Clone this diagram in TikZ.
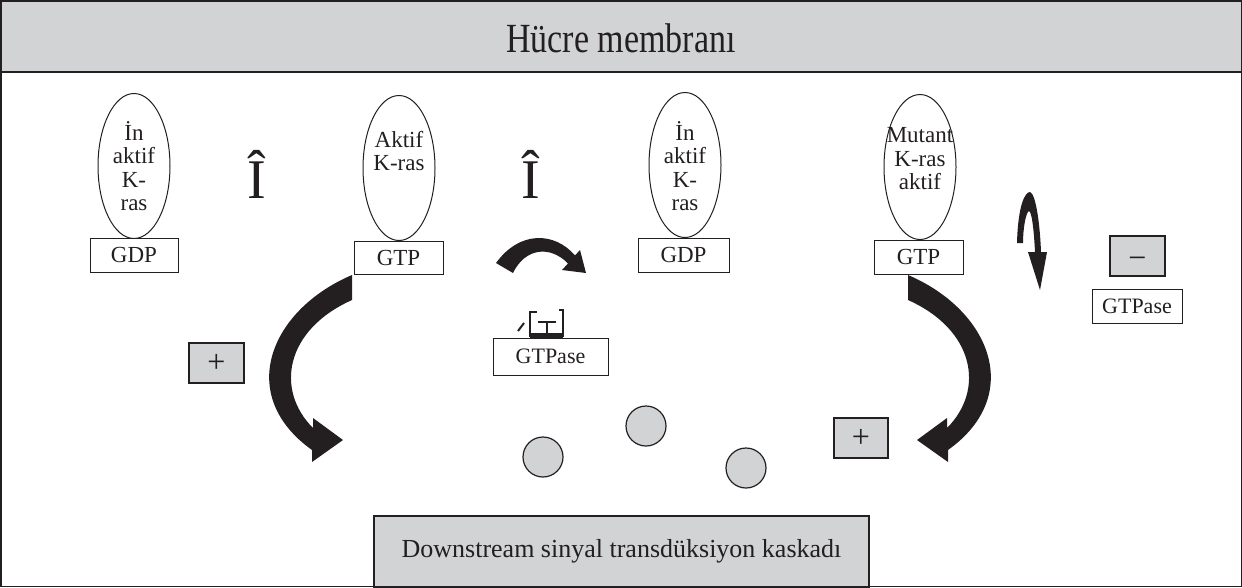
\documentclass[tikz,border=0pt]{standalone}
\usepackage{fontspec}
\usepackage{graphicx}
\setmainfont{Liberation Serif}
\usetikzlibrary{shapes.geometric}
\definecolor{boxgray}{RGB}{209,211,212}
\definecolor{ink}{RGB}{35,31,32}
\begin{document}
\begin{tikzpicture}[x=1pt,y=-1pt,
  lbl/.style={font=\fontsize{23}{23.5}\selectfont, align=center, inner sep=0pt, text=ink},
  kras/.style={draw=ink, line width=1pt, ellipse, minimum width=72pt, minimum height=145pt, inner sep=0pt},
  nuc/.style={draw=ink, line width=1pt, rectangle, inner sep=0pt, font=\fontsize{23}{23}\selectfont, text=ink},
  signbox/.style={draw=ink, line width=1.2pt, fill=boxgray, minimum width=55pt, minimum height=40pt, inner sep=0pt, font=\fontsize{32}{32}\selectfont, text=ink},
  dot/.style={draw=ink, line width=1.2pt, fill=boxgray, circle, minimum size=40pt, inner sep=0pt},
  bigarrow/.style={fill=ink, draw=none},
  hat/.style={font=\fontsize{56}{56}\selectfont, text=ink, inner sep=0pt, anchor=base}
]
\useasboundingbox (0,0) rectangle (1242,587);
% header
\fill[boxgray] (0,0) rectangle (1242,72);
\draw[ink, line width=1.2pt] (0,72) -- (1242,72);
\node[inner sep=0pt, text=ink] (membrane) at (621,38) {\scalebox{1}[1.22]{\fontsize{34}{34}\selectfont Hücre membranı}};

% K-ras ellipses
\node[kras] (e1) at (134,166) {};
\node[kras] (e2) at (399,168) {};
\node[kras] (e3) at (685,165) {};
\node[kras] (e4) at (920,167) {};
\node[lbl] (t1) at (134,166) {İn\\aktif\\K-\\ras};
\node[lbl] (t2) at (399,151) {Aktif\\K-ras};
\node[lbl] (t3) at (685,166) {İn\\aktif\\K-\\ras};
\node[lbl] (t4) at (920,159) {Mutant\\K-ras\\aktif};

% nucleotide boxes
\node[nuc, minimum width=88pt, minimum height=34pt] (gdp1) at (134,255) {GDP};
\node[nuc, minimum width=89pt, minimum height=33pt] (gtp2) at (398.5,257.5) {GTP};
\node[nuc, minimum width=91pt, minimum height=34pt] (gdp3) at (683.5,255) {GDP};
\node[nuc, minimum width=89pt, minimum height=34pt] (gtp4) at (918.5,257) {GTP};

% big I-hat symbols
\node[hat] (i1) at (257,198) {Î};
\node[hat] (i2) at (531,198) {Î};

% GTPase boxes
\node[nuc, font=\fontsize{22}{22}\selectfont, minimum width=115pt, minimum height=37pt] (gtpase1) at (550.5,356.5) {GTPase};
\node[nuc, font=\fontsize{22}{22}\selectfont, minimum width=90pt, minimum height=34pt] (gtpase2) at (1137,306) {GTPase};

% sign boxes
\node[signbox] (minus) at (1137.5,256) {\raisebox{-12pt}[0pt][0pt]{−}};
\node[signbox] (plus1) at (216.5,363) {+};
\node[signbox, minimum width=54pt] (plus2) at (861,438) {+};

% circles
\node[dot] (c1) at (543,457) {};
\node[dot] (c2) at (646,426) {};
\node[dot] (c3) at (746,468) {};

% downstream box
\node[draw=ink, line width=1.2pt, fill=boxgray, minimum width=495pt, minimum height=71pt, inner sep=0pt, font=\fontsize{26}{26}\selectfont, text=ink] (down) at (621.5,551.5) {Downstream sinyal transdüksiyon kaskadı};

% garbled glyph above GTPase
\draw[ink, line width=2pt] (518,331) -- (524,323);
\draw[ink, line width=1.5pt] (537,312) -- (530,312) -- (530,336) -- (563,336) -- (563,310) -- (559,310);
\fill[ink] (530,333) rectangle (563,338);
\draw[ink, line width=1.8pt] (538,322) -- (556,322) (547,322) -- (547,334);

% big curved arrows
\fill[bigarrow] (352,275) .. controls (270,310) and (235,395) .. (312,450) -- (312,462) -- (343,440) -- (313,418) -- (313,428) .. controls (275,390) and (285,330) .. (352,300) -- cycle;
\fill[bigarrow] (908,275) .. controls (990,310) and (1025,395) .. (948,450) -- (948,462) -- (917,440) -- (947,418) -- (947,428) .. controls (985,390) and (975,330) .. (908,300) -- cycle;
\fill[bigarrow] (496,263) .. controls (520,230) and (555,232) .. (575,255.5) -- (580,250) -- (586,273) -- (562,270) -- (568,263.5) .. controls (550,245) and (525,248) .. (513,273) -- cycle;
\fill[bigarrow] (1017,243) .. controls (1018,205) and (1025,192) .. (1030,192) .. controls (1036,194) and (1040,225) .. (1041,252) -- (1047,252) -- (1040,290) -- (1028,252) -- (1035,252) .. controls (1034,232) and (1032,212) .. (1029,211) .. controls (1026,212) and (1023,228) .. (1023,243) -- cycle;

% outer frame
\draw[ink, line width=1.5pt] (0.75,0.75) rectangle (1241.25,586.25);
\end{tikzpicture}
\end{document}
